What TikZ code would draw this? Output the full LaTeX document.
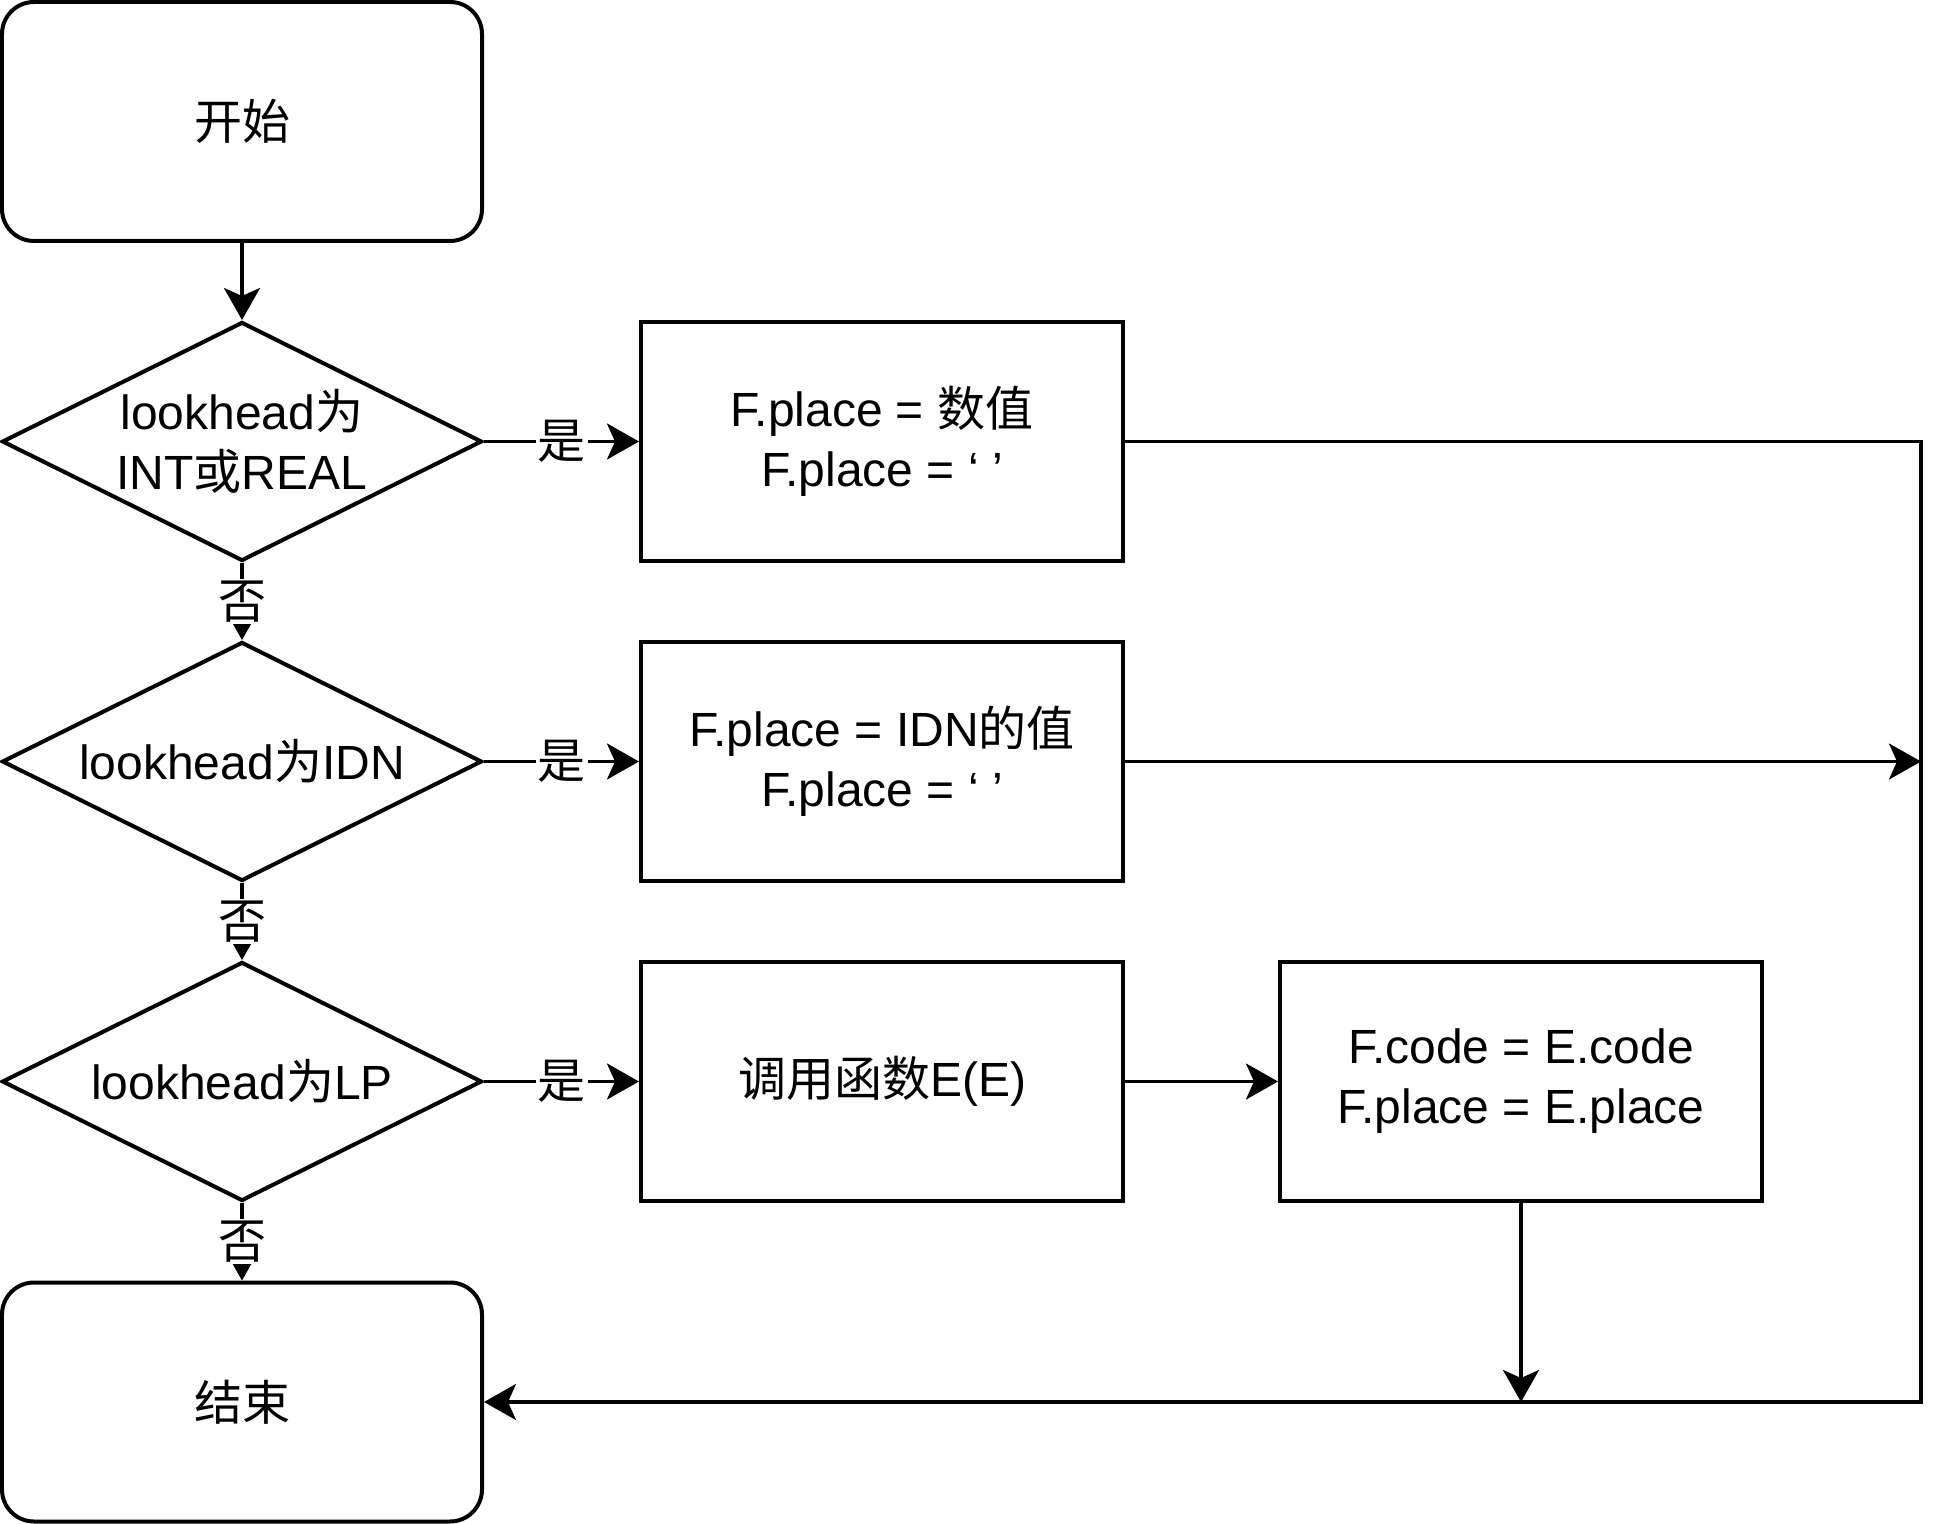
\documentclass[tikz,border=0pt]{standalone}
\usepackage{fontspec}
\setmainfont{Liberation Sans}
\newfontfamily\cjk{Noto Sans CJK SC}
\newcommand{\zh}[1]{{\cjk #1}}
\usetikzlibrary{shapes.geometric,arrows.meta}
\begin{document}
\begin{tikzpicture}[x=50pt,y=50pt,>={Stealth[length=16pt,width=18pt,inset=4pt]},line width=1.6pt,
		font=\fontsize{24}{30}\selectfont,
		term/.style={draw,line width=2pt,rounded corners=16pt,minimum width=240pt,minimum height=119.5pt,align=center},
		cond/.style={draw,line width=2pt,diamond,aspect=2,inner sep=0pt,minimum width=240pt,minimum height=119.5pt,align=center},
		proc/.style={draw,line width=2pt,minimum width=241pt,minimum height=119.5pt,align=center},
		lbl/.style={fill=white,inner sep=1pt}]
			\useasboundingbox (0,0) rectangle (19.56,-15.24);
			\node[term] (start) at (2.42,-1.215) {\zh{开始}};
			\node[cond] (d1) at (2.42,-4.415) {lookhead\zh{为}\\INT\zh{或}REAL};
			\node[cond] (d2) at (2.42,-7.615) {lookhead\zh{为}IDN};
			\node[cond] (d3) at (2.42,-10.815) {lookhead\zh{为}LP};
			\node[term] (stop) at (2.42,-14.02) {\zh{结束}};
			\node[proc] (p1) at (8.82,-4.415) {F.place = \zh{数值}\\F.place = ‘ ’};
			\node[proc] (p2) at (8.82,-7.615) {F.place = IDN\zh{的值}\\F.place = ‘ ’};
			\node[proc] (p3) at (8.82,-10.815) {\zh{调用函数}E(E)};
			\node[proc] (p4) at (15.21,-10.815) {F.code = E.code\\F.place = E.place};
			\coordinate (r1) at (19.21,-4.415);
			\coordinate (r2) at (19.21,-7.615);
			\coordinate (r3) at (19.21,-14.02);
			\coordinate (m) at (15.21,-14.02);
			\draw[->] (start)--(d1);
			\draw[->] (d1)--node[lbl]{\zh{否}}(d2);
			\draw[->] (d2)--node[lbl]{\zh{否}}(d3);
			\draw[->] (d3)--node[lbl]{\zh{否}}(stop);
			\draw[->] (d1)--node[lbl]{\zh{是}}(p1);
			\draw[->] (d2)--node[lbl]{\zh{是}}(p2);
			\draw[->] (d3)--node[lbl]{\zh{是}}(p3);
			\draw[->] (p3)--(p4);
			\draw[->] (p1.east)--(r1)--(r3)--(stop.east);
			\draw[->] (p2.east)--(r2);
			\draw[->] (p4.south)--(m);
		\end{tikzpicture}
\end{document}
